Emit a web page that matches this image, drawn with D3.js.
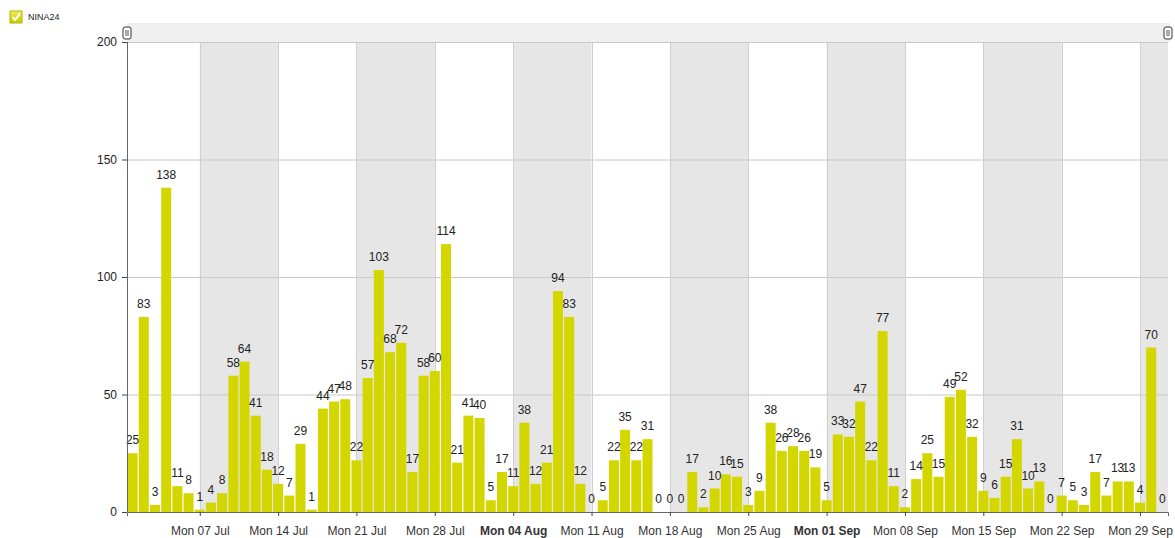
<!DOCTYPE html>
<html>
<head>
<meta charset="utf-8">
<script src="https://cdn.jsdelivr.net/npm/d3@7"></script>
<style>
  body { margin: 0; background: #fff; font-family: "Liberation Sans", Arial, sans-serif; }
  .axis text { font-family: "Liberation Sans", Arial, sans-serif; }
</style>
</head>
<body>
<div id="chart"></div>
<script>
// daily counts, 01 Jul -> 01 Oct
var startDay = "2014-07-01";
var seriesName = "NINA24";
var julValues = [25, 83, 3, 138, 11, 8, 1, 4, 8, 58, 64, 41, 18, 12, 7, 29, 1, 44, 47, 48, 22, 57, 103, 68, 72, 17, 58, 60, 114, 21, 41];
var augValues = [40, 5, 17, 11, 38, 12, 21, 94, 83, 12, 0, 5, 22, 35, 22, 31, 0, 0, 0, 17, 2, 10, 16, 15, 3, 9, 38, 26, 28, 26, 19];
var sepValues = [5, 33, 32, 47, 22, 77, 11, 2, 14, 25, 15, 49, 52, 32, 9, 6, 15, 31, 10, 13, 0, 7, 5, 3, 17, 7, 13, 13, 4, 70];
var octValues = [0];
var yTicks = [0, 50, 100, 150, 200];

var values = julValues.concat(augValues, sepValues, octValues);
var parseDay = d3.utcParse("%Y-%m-%d");
var first = parseDay(startDay);
var data = values.map(function(v, i){
    return {date: d3.utcDay.offset(first, i), value: v};
});

var width = 1175, height = 538;
var margin = {left: 127, right: 7, top: 42, bottom: 26};

var svg = d3.select("#chart").append("svg")
    .attr("width", width)
    .attr("height", height);

// half a day of padding on each side
var x = d3.scaleUtc()
    .domain([d3.utcHour.offset(first, -12), d3.utcHour.offset(data[data.length - 1].date, 12)])
    .range([margin.left, width - margin.right]);

var y = d3.scaleLinear()
    .domain([0, 200])
    .range([height - margin.bottom, margin.top]);

var mondays = d3.utcMonday.range(x.domain()[0], x.domain()[1]);

// alternating week bands
var bands = [];
for (var i = 0; i < mondays.length; i += 2) {
    var end = d3.utcMonday.offset(mondays[i], 1);
    if (end > x.domain()[1]) end = x.domain()[1];
    bands.push([mondays[i], end]);
}
svg.append("g").selectAll("rect")
    .data(bands)
    .enter().append("rect")
    .attr("x", function(d){ return x(d[0]); })
    .attr("y", y(200))
    .attr("width", function(d){ return x(d[1]) - x(d[0]); })
    .attr("height", y(0) - y(200))
    .style("fill", "#e6e6e6");

// grid
svg.append("g").selectAll("line")
    .data(yTicks.slice(1))
    .enter().append("line")
    .attr("x1", margin.left).attr("x2", width - margin.right)
    .attr("y1", function(d){ return y(d) + 0.5; })
    .attr("y2", function(d){ return y(d) + 0.5; })
    .style("stroke", "#c8c8c8")
    .style("stroke-width", 1);

svg.append("g").selectAll("line")
    .data(mondays)
    .enter().append("line")
    .attr("x1", function(d){ return Math.round(x(d)) + 0.5; })
    .attr("x2", function(d){ return Math.round(x(d)) + 0.5; })
    .attr("y1", y(200)).attr("y2", y(0))
    .style("stroke", "#cfcfcf")
    .style("stroke-width", 1);

// bars
var barW = 10;
svg.append("g").selectAll("rect")
    .data(data)
    .enter().append("rect")
    .attr("x", function(d){ return x(d.date) - barW / 2; })
    .attr("y", function(d){ return y(d.value); })
    .attr("width", barW)
    .attr("height", function(d){ return y(0) - y(d.value); })
    .style("fill", "#d4d600");

svg.append("g").selectAll("text")
    .data(data)
    .enter().append("text")
    .attr("x", function(d){ return x(d.date); })
    .attr("y", function(d){ return y(d.value) - 9; })
    .attr("text-anchor", "middle")
    .attr("font-size", "12px")
    .style("fill", "#222")
    .text(function(d){ return d.value; });

// axes
var fmt = d3.utcFormat("%a %d %b");
var xAxis = svg.append("g")
    .attr("class", "axis")
    .attr("transform", "translate(0," + y(0) + ")")
    .call(d3.axisBottom(x).tickValues(mondays).tickSize(4).tickPadding(10).tickFormat(fmt));
xAxis.select(".domain").style("stroke", "#666");
xAxis.selectAll(".tick line").style("stroke", "#444");
xAxis.selectAll(".tick text")
    .attr("font-size", "12px")
    .style("fill", "#333")
    .style("font-weight", function(d, i){
        return (i > 0 && d.getUTCMonth() !== mondays[i - 1].getUTCMonth()) ? "bold" : "normal";
    });

var yAxis = svg.append("g")
    .attr("class", "axis")
    .attr("transform", "translate(" + margin.left + ",0)")
    .call(d3.axisLeft(y).tickValues(yTicks).tickSize(5).tickPadding(5));
yAxis.select(".domain").style("stroke", "#666").attr("d", "M0.5," + y(200) + "V" + y(0));
yAxis.selectAll(".tick line").style("stroke", "#444");
yAxis.selectAll(".tick text").attr("font-size", "12px").style("fill", "#222");

// scrollbar strip on top
svg.append("rect")
    .attr("x", margin.left).attr("y", 23)
    .attr("width", width - margin.right - margin.left + 2).attr("height", y(200) - 23)
    .style("fill", "#efefef");

[margin.left, width - margin.right].forEach(function(hx){
    var h = svg.append("g").attr("transform", "translate(" + (hx - 4) + ",27)");
    h.append("rect").attr("width", 8).attr("height", 12).attr("rx", 2)
        .style("fill", "#fff").style("stroke", "#333").style("stroke-width", 1);
    h.append("line").attr("x1", 3).attr("x2", 3).attr("y1", 3).attr("y2", 9).style("stroke", "#555");
    h.append("line").attr("x1", 5).attr("x2", 5).attr("y1", 3).attr("y2", 9).style("stroke", "#555");
});

// legend
var legend = svg.append("g").attr("transform", "translate(10,11)");
var grad = svg.append("defs").append("linearGradient")
    .attr("id", "chk").attr("x1", 0).attr("y1", 0).attr("x2", 0).attr("y2", 1);
grad.append("stop").attr("offset", "0%").attr("stop-color", "#eef060");
grad.append("stop").attr("offset", "100%").attr("stop-color", "#c8c800");
legend.append("rect").attr("width", 12).attr("height", 12)
    .style("fill", "url(#chk)").style("stroke", "#b5b500");
legend.append("path").attr("d", "M2.5,6 L5,9 L10,2.5")
    .style("fill", "none").style("stroke", "#fff").style("stroke-width", 1.8);
legend.append("text").attr("x", 18).attr("y", 8.5)
    .attr("font-size", "9px").style("fill", "#222")
    .text(seriesName);
</script>
</body>
</html>
